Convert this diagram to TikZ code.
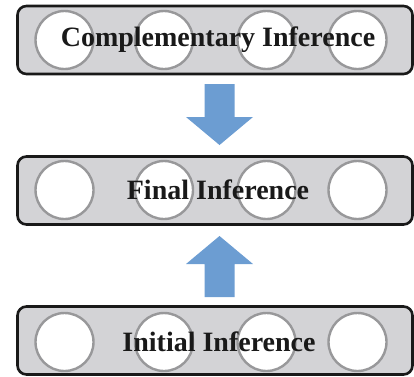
\documentclass[tikz,border=0pt]{standalone}
\usepackage{fontspec}
\setmainfont{Liberation Serif}
\definecolor{boxgray}{RGB}{211,211,214}
\definecolor{ringgray}{RGB}{152,152,154}
\definecolor{arrowblue}{RGB}{108,157,210}
\begin{document}
\begin{tikzpicture}[x=1pt,y=-1pt,
  layerbox/.style={draw=black!90,line width=2.6pt,fill=boxgray,rounded corners=9pt,
    minimum width=395pt,minimum height=68pt,inner sep=0pt},
  unit/.style={circle,draw=ringgray,line width=2.4pt,fill=white,minimum size=58pt,inner sep=0pt},
  label/.style={font=\fontsize{28}{31}\selectfont\bfseries,text=black!90,inner sep=0pt},
  blockarrow/.style={fill=arrowblue,draw=none}
]
\useasboundingbox (0,0) rectangle (414,376);
% boxes
\node[layerbox] (top) at (215,40) {};
\node[layerbox] (mid) at (215,190.5) {};
\node[layerbox] (bot) at (215,340.5) {};
% circles
\foreach \n/\y in {t/40,m/190,b/342}{
  \node[unit] (\n1) at (64.5,\y) {};
  \node[unit] (\n2) at (164,\y) {};
  \node[unit] (\n3) at (266.5,\y) {};
  \node[unit] (\n4) at (357.5,\y) {};
}
% labels
\node[label] (ltop) at (218,40) {Complementary Inference};
\node[label] (lmid) at (218,190) {Final Inference};
\node[label] (lbot) at (219,342) {Initial Inference};
% block arrows
\fill[blockarrow] (204.5,84) -- (234.5,84) -- (234.5,117) -- (253,117) -- (219.5,145)
  -- (186,117) -- (204.5,117) -- cycle;
\fill[blockarrow] (204.5,297) -- (234.5,297) -- (234.5,264) -- (253,264) -- (219.5,236)
  -- (186,264) -- (204.5,264) -- cycle;
\end{tikzpicture}
\end{document}
